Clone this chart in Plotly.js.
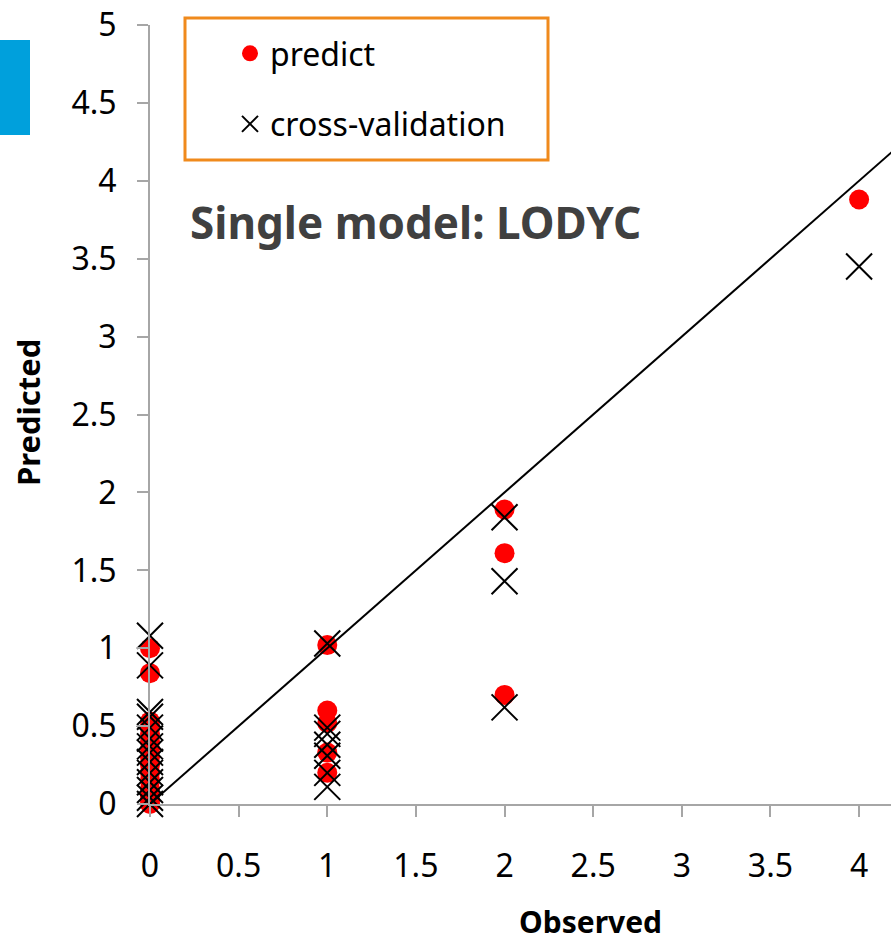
<!DOCTYPE html>
<html>
<head>
<meta charset="utf-8">
<script src="https://cdn.plot.ly/plotly-3.0.1.min.js"></script>
<style>html,body{margin:0;padding:0;background:#fff;}#chart{width:891px;height:944px;}</style>
</head>
<body>
<div id="chart"></div>
<script>
// ---- data ----
const predictX = [0,0,0,0,0,0,0,0,0,0,0,0,0,0,0, 1,1,1,1,1, 2,2,2, 4];
const predictY = [1.0,0.84,0.53,0.50,0.45,0.40,0.35,0.30,0.25,0.20,0.15,0.10,0.05,0.02,0.0,
                  1.02,0.60,0.52,0.33,0.20, 1.89,1.61,0.70, 3.88];
const cvX = [0,0,0,0,0,0,0,0,0,0,0,0,0,0, 1,1,1,1,1,1,1, 2,2,2, 4];
const cvY = [1.08,0.89,0.59,0.56,0.49,0.42,0.37,0.33,0.27,0.20,0.14,0.09,0.04,0.0,
             1.03,0.49,0.45,0.38,0.31,0.20,0.11, 1.84,1.43,0.62, 3.45];
const refLineX = [0, 5];
const refLineY = [0, 5];
const xTicks = [0,0.5,1,1.5,2,2.5,3,3.5,4];
const xTickText = ['0','0.5','1','1.5','2','2.5','3','3.5','4'];
const yTicks = [0,0.5,1,1.5,2,2.5,3,3.5,4,4.5,5];
const yTickText = ['0','0.5','1','1.5','2','2.5','3','3.5','4','4.5','5'];
const seriesNames = ['predict','cross-validation'];
const chartTitle = 'Single model: LODYC';
const xTitle = 'Observed';
const yTitle = 'Predicted';

// ---- layout helpers (pixel -> paper) ----
const W = 891, H = 944, mL = 150, mR = 0, mT = 25, mB = 140;
const pw = W - mL - mR, ph = H - mT - mB;
const px = x => (x - mL) / pw;
const py = y => (H - mB - y) / ph;
const FONT = 'Noto Sans, Open Sans, sans-serif';
const axisGray = '#a6a6a6';

const traces = [
  {x: predictX, y: predictY, name: seriesNames[0], type: 'scatter', mode: 'markers',
   marker: {symbol: 'circle', color: '#ff0000', size: 20},
   cliponaxis: false, legendgroup: 'a'},
  {x: refLineX, y: refLineY, type: 'scatter', mode: 'lines', showlegend: false,
   line: {color: '#000000', width: 2}, hoverinfo: 'skip'},
  {x: cvX, y: cvY, name: seriesNames[1], type: 'scatter', mode: 'markers',
   marker: {symbol: 'x-thin-open', color: '#000000', size: 26, line: {color: '#000000', width: 2}},
   cliponaxis: false, legendgroup: 'b'}
];

const layout = {
  width: W, height: H,
  margin: {l: mL, r: mR, t: mT, b: mB, pad: 0},
  paper_bgcolor: '#ffffff', plot_bgcolor: '#ffffff',
  font: {family: FONT, color: '#000000', size: 32},
  showlegend: true,
  legend: {
    x: px(230), y: py(26), xanchor: 'left', yanchor: 'top',
    bgcolor: 'rgba(0,0,0,0)', borderwidth: 0,
    font: {family: FONT, size: 32, color: '#000000'},
    traceorder: 'grouped', tracegroupgap: 26, itemsizing: 'trace'
  },
  xaxis: {
    range: [0, 4.18], tickmode: 'array', tickvals: xTicks, ticktext: xTickText,
    showgrid: false, zeroline: false, showline: true, linecolor: axisGray, linewidth: 2,
    ticks: 'outside', ticklen: 11, tickwidth: 2, tickcolor: axisGray,
    ticklabelstandoff: 22,
    tickfont: {family: FONT, size: 32, color: '#000000'}
  },
  yaxis: {
    range: [0, 5], tickmode: 'array', tickvals: yTicks, ticktext: yTickText,
    showgrid: false, zeroline: false, showline: true, linecolor: axisGray, linewidth: 2,
    ticks: 'outside', ticklen: 11, tickwidth: 2, tickcolor: axisGray,
    ticklabelstandoff: 14,
    tickfont: {family: FONT, size: 32, color: '#000000'}
  },
  shapes: [
    {type: 'rect', xref: 'paper', yref: 'paper', x0: px(185), x1: px(548), y0: py(160), y1: py(18),
     line: {color: '#f08a1c', width: 3}, fillcolor: 'rgba(0,0,0,0)'},
    {type: 'rect', xref: 'paper', yref: 'paper', x0: px(0), x1: px(30), y0: py(135), y1: py(40),
     line: {width: 0}, fillcolor: '#00a0dc'}
  ],
  annotations: [
    {text: '<b>' + chartTitle + '</b>', xref: 'paper', yref: 'paper', x: px(188), y: py(222),
     xanchor: 'left', yanchor: 'middle', showarrow: false,
     font: {family: FONT, size: 44, color: '#404040'}},
    {text: '<b>' + xTitle + '</b>', xref: 'paper', yref: 'paper', x: px(590), y: py(921),
     xanchor: 'center', yanchor: 'middle', showarrow: false,
     font: {family: FONT, size: 30, color: '#000000'}},
    {text: '<b>' + yTitle + '</b>', xref: 'paper', yref: 'paper', x: px(28), y: py(413),
     xanchor: 'center', yanchor: 'middle', showarrow: false, textangle: -90,
     font: {family: FONT, size: 31, color: '#000000'}}
  ]
};

Plotly.newPlot('chart', traces, layout, {displayModeBar: false, staticPlot: true});
</script>
</body>
</html>
